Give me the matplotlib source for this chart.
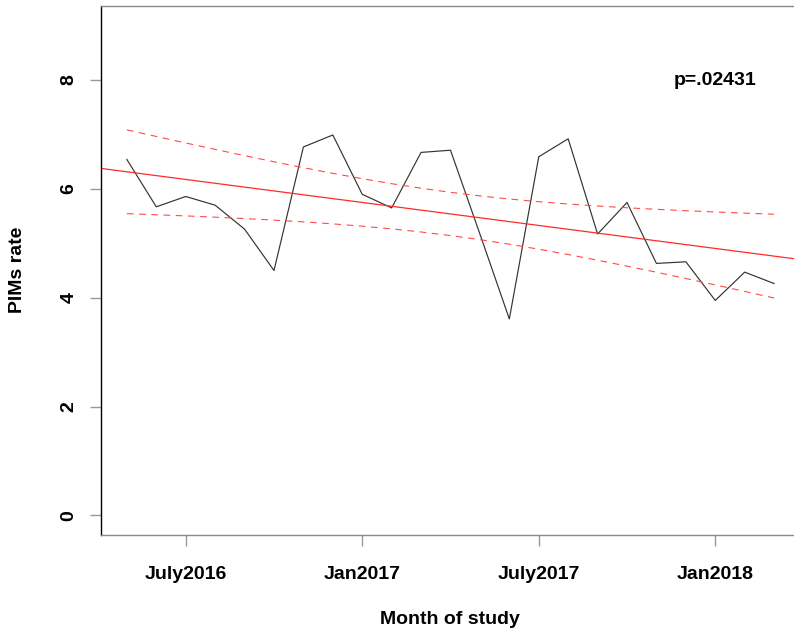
import numpy as np
import matplotlib
matplotlib.use("Agg")
from matplotlib import pyplot as plt

# monthly PIMs rate, May 2016 .. Mar 2018
months = np.arange(23)
rate = [6.54, 5.67, 5.86, 5.70, 5.26, 4.50, 6.77, 6.99, 5.90, 5.65, 6.67, 6.71,
        5.17, 3.61, 6.59, 6.92, 5.17, 5.75, 4.63, 4.66, 3.95, 4.47, 4.26]
tick_pos = [2, 8, 14, 20]
tick_labels = ["July2016", "Jan2017", "July2017", "Jan2018"]
y_ticks = [0, 2, 4, 6, 8]
p_text = "p=.02431"

plt.rcParams['font.family'] = ['Liberation Sans', 'DejaVu Sans']
plt.rcParams['font.weight'] = 'bold'
fs = 14

W, H = 794, 635
fig = plt.figure(figsize=(W / 100, H / 100), dpi=100)
# R-style plot box, right edge runs a bit past the image
ax = fig.add_axes([101 / W, 1 - 535 / H, (800 - 101) / W, (535 - 6) / H])

x = months.astype(float)
y = np.array(rate)

# ordinary least squares fit + 95% confidence band
n = len(x)
slope, icpt = np.polyfit(x, y, 1)
fit = icpt + slope * x
resid = y - fit
s = np.sqrt(np.sum(resid ** 2) / (n - 2))
sxx = np.sum((x - x.mean()) ** 2)
t_crit = 2.0796  # qt(0.975, df=21)
half = t_crit * s * np.sqrt(1 / n + (x - x.mean()) ** 2 / sxx)

ax.plot(x, y, color='#333333', lw=0.85)
xr = np.array([-2, 25])
ax.plot(xr, icpt + slope * xr, color='#ff2a2a', lw=0.9)
ax.plot(x, fit + half, color='#ff4a4a', lw=0.8, linestyle=(0, (6, 5)))
ax.plot(x, fit - half, color='#ff4a4a', lw=0.8, linestyle=(0, (6, 5)))

ax.text(20, 8, p_text, ha='center', va='center', fontsize=fs, fontweight='bold')

ax.set_xlim(-0.88, 22.88)
ax.set_ylim(-0.36, 9.36)
ax.set_xticks(tick_pos)
ax.set_xticklabels(tick_labels, fontsize=fs, fontweight='bold')
ax.set_yticks(y_ticks)
ax.set_yticklabels([str(v) for v in y_ticks], fontsize=fs, fontweight='bold',
                   rotation=90, va='center')
ax.tick_params(axis='both', length=8, width=1, color='#999999')
ax.tick_params(axis='x', pad=14)
ax.tick_params(axis='y', pad=9)

ax.spines['left'].set_color('black')
ax.spines['left'].set_linewidth(1)
for side in ['top', 'bottom', 'right']:
    ax.spines[side].set_color('#888888')
    ax.spines[side].set_linewidth(1)

fig.text(17 / W, 1 - 270 / H, "PIMs rate", rotation=90, ha='center', va='center',
         fontsize=fs, fontweight='bold')
fig.text(450 / W, 1 - 620 / H, "Month of study", ha='center', va='center',
         fontsize=fs, fontweight='bold')

fig.savefig("out.png", dpi=100)
